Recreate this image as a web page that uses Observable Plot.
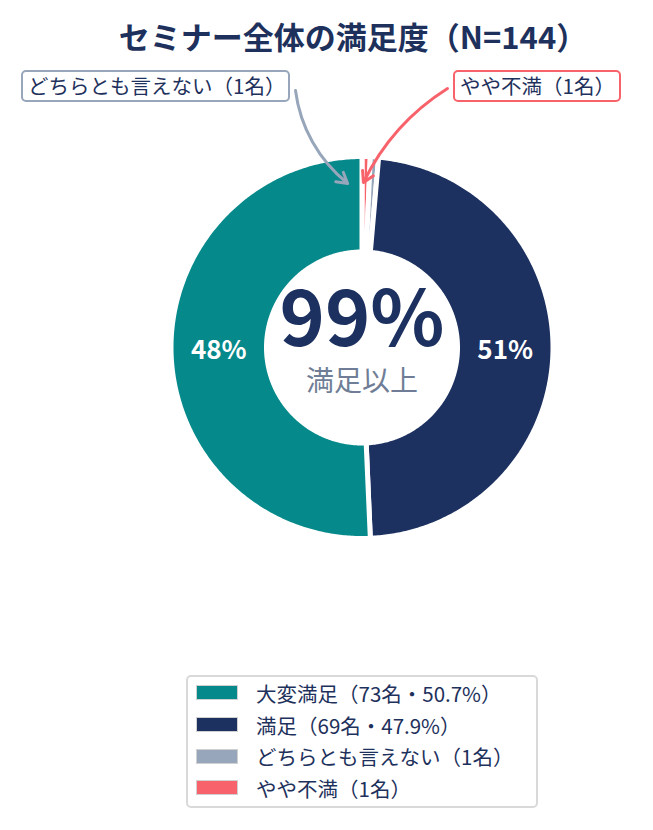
<!DOCTYPE html>
<html><head><meta charset="utf-8">
<script src="https://cdn.jsdelivr.net/npm/d3@7"></script>
<script src="https://cdn.jsdelivr.net/npm/@observablehq/plot@0.6"></script>
<style>
body{margin:0;background:#fff;font-family:"Noto Sans CJK JP","Noto Sans",sans-serif;color:#1e315c}
#wrap{position:relative;width:653px;height:830px;overflow:hidden}
#title{position:absolute;left:0;top:13px;width:706px;text-align:center;font-size:31px;font-weight:700;color:#1e315c;white-space:nowrap}
#chart{position:absolute;left:0;top:62px}
.note{position:absolute;top:70px;height:32px;box-sizing:border-box;border:2px solid;border-radius:5px;background:#fff;font-size:20.5px;line-height:27px;padding-left:5px;white-space:nowrap;color:#1e315c}
#legend{position:absolute;left:186px;top:675px;width:352px;height:133px;box-sizing:border-box;border:2px solid #d9d9d9;border-radius:5px;background:#fff}
.row{display:flex;align-items:center;height:31.7px;font-size:20.5px;white-space:nowrap;color:#1e315c}
.sw{width:42px;height:15px;box-sizing:border-box;border:1px solid #d0d0d0;margin:0 18px 0 8px;flex:none}
</style></head>
<body><div id="wrap">
<div id="title"></div>
<div id="chart"></div>
<div id="legend"></div>
</div>
<script>
// ---- data ----
const titleText = "セミナー全体の満足度（N=144）";
const categories = ["やや不満", "どちらとも言えない", "満足", "大変満足"];
const counts = [1, 1, 69, 73];
const colors = ["#f8636b", "#97a6ba", "#1c3160", "#06898a"];
const sliceLabels = ["", "", "51%", "48%"];
const centerValue = "99%";
const centerCaption = "満足以上";
const legendOrder = ["大変満足", "満足", "どちらとも言えない", "やや不満"];
const legendLabels = ["大変満足（73名・50.7%）", "満足（69名・47.9%）", "どちらとも言えない（1名）", "やや不満（1名）"];
const noteTexts = ["どちらとも言えない（1名）", "やや不満（1名）"];
const noteColors = ["#97a6ba", "#f8636b"];

// ---- layout ----
const W = 653, H = 600, cx = 361.5, cy = 285, R = 191, inner = 0.5;
document.getElementById("title").textContent = titleText;

const data = categories.map((c, i) => ({category: c, count: counts[i], label: sliceLabels[i]}));
const arcs = d3.pie().sort(null).value(d => d.count).startAngle(0).endAngle(2 * Math.PI)(data);

const pts = [];
for (const a of arcs) {
  const n = Math.max(4, Math.ceil((a.endAngle - a.startAngle) / 0.01));
  for (let i = 0; i <= n; i++) {
    const t = a.startAngle + (a.endAngle - a.startAngle) * i / n;
    pts.push({key: a.data.category, x: Math.sin(t), y: Math.cos(t)});
  }
  for (let i = n; i >= 0; i--) {
    const t = a.startAngle + (a.endAngle - a.startAngle) * i / n;
    pts.push({key: a.data.category, x: inner * Math.sin(t), y: inner * Math.cos(t)});
  }
}
const labelPts = arcs.filter(a => a.data.label).map(a => {
  const m = (a.startAngle + a.endAngle) / 2, r = (1 + inner) / 2;
  return {x: r * Math.sin(m), y: r * Math.cos(m), text: a.data.label};
});

// annotation arrows: start at note boxes (page px), tips in polar (deg, radius)
const toX = px => (px - cx) / R, toY = py => (cy + 62 - py) / R;
const arrows = [
  {x1: toX(295), y1: toY(90), ang: -5, r: 0.862, color: noteColors[0]},
  {x1: toX(447), y1: toY(88), ang: 0.5, r: 0.864, color: noteColors[1]}
].map(d => ({...d, x2: d.r * Math.sin(d.ang * Math.PI / 180), y2: d.r * Math.cos(d.ang * Math.PI / 180)}));

const chart = Plot.plot({
  width: W, height: H,
  margin: 0,
  x: {domain: [-cx / R, (W - cx) / R], range: [0, W], axis: null},
  y: {domain: [-(H - cy) / R, cy / R], range: [H, 0], axis: null},
  color: {domain: categories, range: colors},
  style: {fontFamily: '"Noto Sans CJK JP","Noto Sans",sans-serif', background: "transparent"},
  marks: [
    Plot.line(pts, {x: "x", y: "y", z: "key", fill: "key", stroke: "white", strokeWidth: 5, strokeLinejoin: "round", curve: "linear-closed"}),
    Plot.text(labelPts, {x: "x", y: "y", text: "text", fill: "white", fontSize: 26, fontWeight: 700, dy: 0}),
    Plot.text([centerValue], {x: () => 0, y: () => 0, text: d => d, fill: "#1c3160", fontSize: 77, fontWeight: 700, dy: -26}),
    Plot.text([centerCaption], {x: () => 0, y: () => 0, text: d => d, fill: "#6f7e96", fontSize: 28, dy: 35}),
    Plot.arrow([arrows[0]], {x1: "x1", y1: "y1", x2: "x2", y2: "y2", stroke: arrows[0].color, strokeWidth: 3, bend: -22, headLength: 6}),
    Plot.arrow([arrows[1]], {x1: "x1", y1: "y1", x2: "x2", y2: "y2", stroke: arrows[1].color, strokeWidth: 3, bend: -16, headLength: 6})
  ]
});
document.getElementById("chart").appendChild(chart);

// notes
const noteBoxes = [{left: 21, width: 269}, {left: 453, width: 168}];
noteTexts.forEach((t, i) => {
  const d = document.createElement("div");
  d.className = "note";
  d.style.left = noteBoxes[i].left + "px";
  d.style.width = noteBoxes[i].width + "px";
  d.style.borderColor = noteColors[i];
  d.textContent = t;
  document.getElementById("wrap").appendChild(d);
});

// legend
const leg = document.getElementById("legend");
legendOrder.forEach((c, i) => {
  const row = document.createElement("div");
  row.className = "row";
  const sw = document.createElement("div");
  sw.className = "sw";
  sw.style.background = colors[categories.indexOf(c)];
  const tx = document.createElement("span");
  tx.textContent = legendLabels[i];
  row.appendChild(sw); row.appendChild(tx);
  leg.appendChild(row);
});
</script>
</body></html>
